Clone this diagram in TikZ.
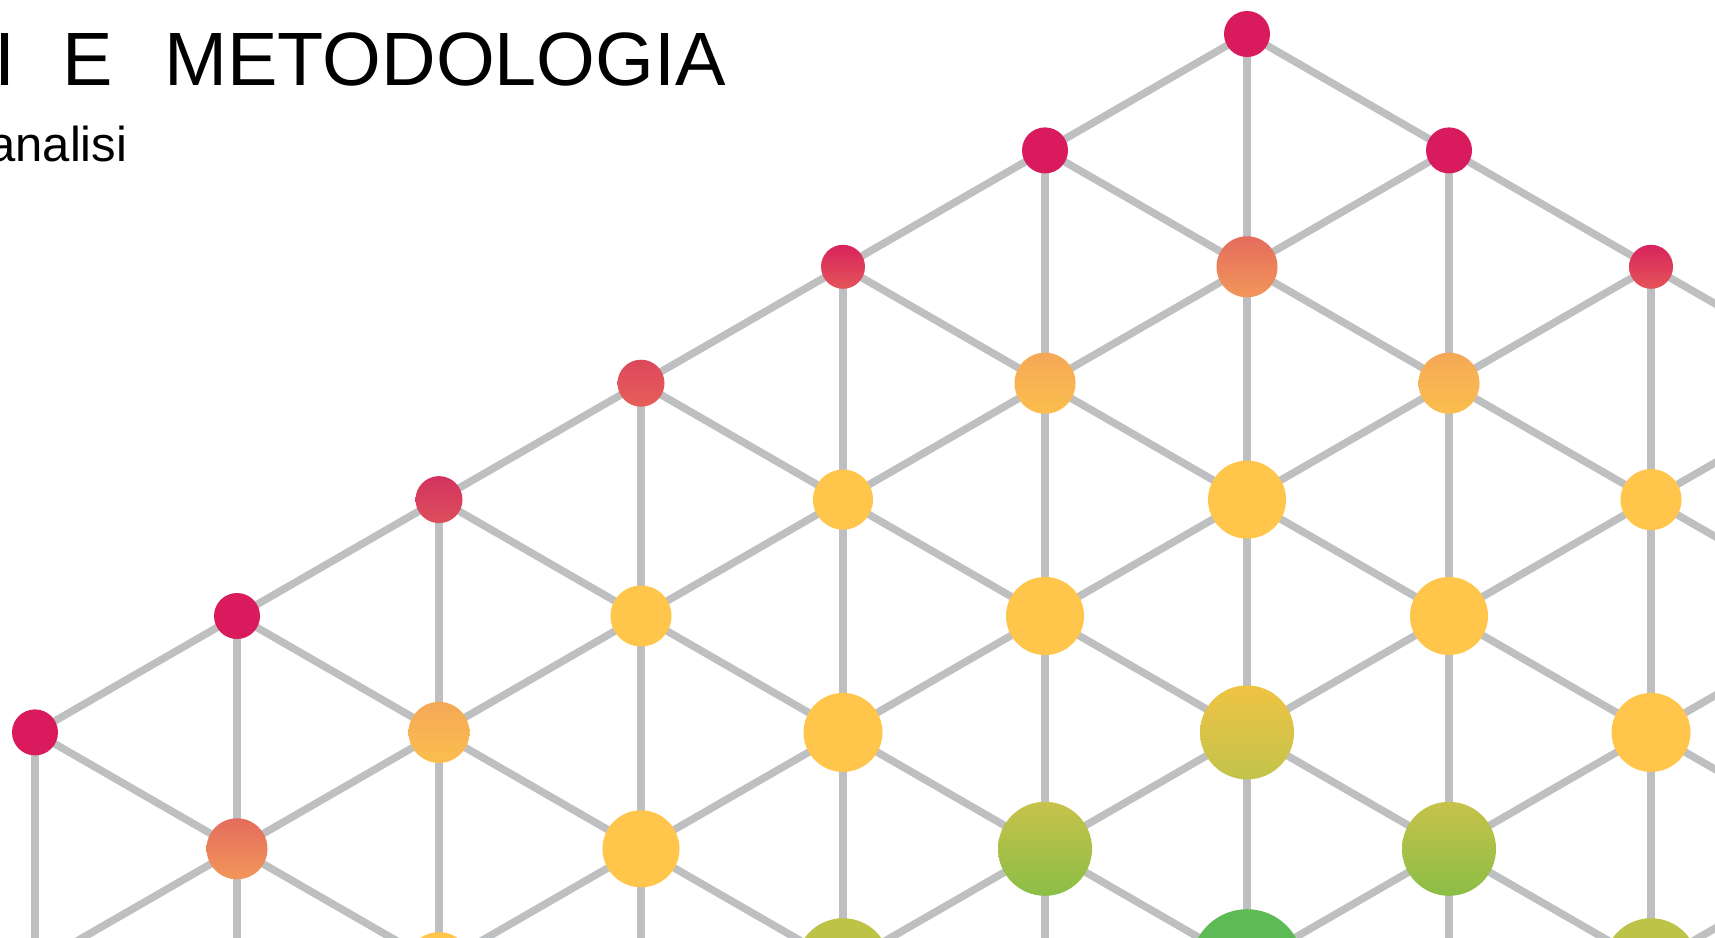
\documentclass[tikz,border=0pt]{standalone}
\usepackage{fontspec}
\setmainfont{Liberation Sans}
\definecolor{lineGray}{HTML}{BEBFC1}
\definecolor{cRed}{HTML}{D91A5D}
\definecolor{cRedT}{HTML}{D8245C}
\definecolor{cRedB}{HTML}{E4545A}
\definecolor{cRedLT}{HTML}{DD485C}
\definecolor{cRedLB}{HTML}{E65E58}
\definecolor{cRedDT}{HTML}{D3335E}
\definecolor{cRedDB}{HTML}{DD4E5C}
\definecolor{cOrT}{HTML}{E46C5C}
\definecolor{cOrB}{HTML}{F2965B}
\definecolor{cOyT}{HTML}{F4A856}
\definecolor{cOyB}{HTML}{FCBE4E}
\definecolor{cYel}{HTML}{FFC64B}
\definecolor{cYoT}{HTML}{EFC343}
\definecolor{cYoB}{HTML}{C2C34C}
\definecolor{cOgT}{HTML}{C7C24A}
\definecolor{cOgB}{HTML}{8BBE46}
\definecolor{cOlive}{HTML}{BDC346}
\definecolor{cGreen}{HTML}{5DBB55}
\begin{document}
\begin{tikzpicture}[x=1pt,y=-1pt,
  edge/.style={draw=lineGray, line width=7.5pt},
  dot/.style={circle, inner sep=0pt, outer sep=0pt, minimum size=#1},
  fRed/.style={fill=cRed},
  gRed/.style={top color=cRedT, bottom color=cRedB},
  gRedL/.style={top color=cRedLT, bottom color=cRedLB},
  gRedD/.style={top color=cRedDT, bottom color=cRedDB},
  gOrange/.style={top color=cOrT, bottom color=cOrB},
  gOy/.style={top color=cOyT, bottom color=cOyB},
  fYel/.style={fill=cYel},
  gYo/.style={top color=cYoT, bottom color=cYoB},
  gOg/.style={top color=cOgT, bottom color=cOgB},
  fOlive/.style={fill=cOlive},
  fGreen/.style={fill=cGreen},
  txt/.style={anchor=base west, inner sep=0pt, outer sep=0pt}
]
\useasboundingbox (0,0) rectangle (1715,937);
\clip (0,0) rectangle (1715,937);
\fill[white] (0,0) rectangle (1715,937);

% lattice points
\foreach \c in {0,...,9}{
  \pgfmathtruncatemacro\t{abs(\c-6)}
  \pgfmathtruncatemacro\tn{\t+2}
  \foreach \r in {\t,\tn,...,10}{
    \coordinate (p\c-\r) at ({35+202*\c},{34+116.4*\r});
  }
}

% connectors
\foreach \c in {0,...,8}{
  \pgfmathtruncatemacro\t{abs(\c-6)}
  \pgfmathtruncatemacro\tn{\t+2}
  \pgfmathtruncatemacro\cn{\c+1}
  \pgfmathtruncatemacro\tnext{abs(\c-5)}
  \foreach \r in {\t,\tn,...,10}{
    \pgfmathtruncatemacro\rd{\r+1}
    \pgfmathtruncatemacro\ru{\r-1}
    \pgfmathtruncatemacro\rv{\r+2}
    \ifnum\rv<11 \draw[edge] (p\c-\r) -- (p\c-\rv);\fi
    \ifnum\rd<11 \draw[edge] (p\c-\r) -- (p\cn-\rd);\fi
    \ifnum\ru<\tnext\else \draw[edge] (p\c-\r) -- (p\cn-\ru);\fi
  }
}

% nodes
\node[dot=46,fRed] (n6-0) at (p6-0) {};
\node[dot=46,fRed] (n5-1) at (p5-1) {};
\node[dot=46,fRed] (n7-1) at (p7-1) {};
\node[dot=44,gRed] (n4-2) at (p4-2) {};
\node[dot=61,gOrange] (n6-2) at (p6-2) {};
\node[dot=44,gRed] (n8-2) at (p8-2) {};
\node[dot=47,gRedL] (n3-3) at (p3-3) {};
\node[dot=61,gOy] (n5-3) at (p5-3) {};
\node[dot=61,gOy] (n7-3) at (p7-3) {};
\node[dot=47,gRedD] (n2-4) at (p2-4) {};
\node[dot=60,fYel] (n4-4) at (p4-4) {};
\node[dot=78,fYel] (n6-4) at (p6-4) {};
\node[dot=61,fYel] (n8-4) at (p8-4) {};
\node[dot=46,fRed] (n1-5) at (p1-5) {};
\node[dot=61,fYel] (n3-5) at (p3-5) {};
\node[dot=78,fYel] (n5-5) at (p5-5) {};
\node[dot=78,fYel] (n7-5) at (p7-5) {};
\node[dot=46,fRed] (n0-6) at (p0-6) {};
\node[dot=61,gOy] (n2-6) at (p2-6) {};
\node[dot=79,fYel] (n4-6) at (p4-6) {};
\node[dot=94,gYo] (n6-6) at (p6-6) {};
\node[dot=79,fYel] (n8-6) at (p8-6) {};
\node[dot=61,gOrange] (n1-7) at (p1-7) {};
\node[dot=77,fYel] (n3-7) at (p3-7) {};
\node[dot=94,gOg] (n5-7) at (p5-7) {};
\node[dot=94,gOg] (n7-7) at (p7-7) {};
\node[dot=66,fYel] (n2-8) at (p2-8) {};
\node[dot=94,fOlive] (n4-8) at (p4-8) {};
\node[dot=112,fGreen] (n6-8) at (p6-8) {};
\node[dot=94,fOlive] (n8-8) at (p8-8) {};

% texts
\node[txt,font=\fontsize{75.6}{80}\selectfont] (title) at (-5.5,85)
  {I\hspace{47.5pt}E\hspace{51pt}METODOLOGIA};
\node[txt,font=\fontsize{49}{55}\selectfont] (sub) at (-11.7,161) {analisi};
\end{tikzpicture}
\end{document}
